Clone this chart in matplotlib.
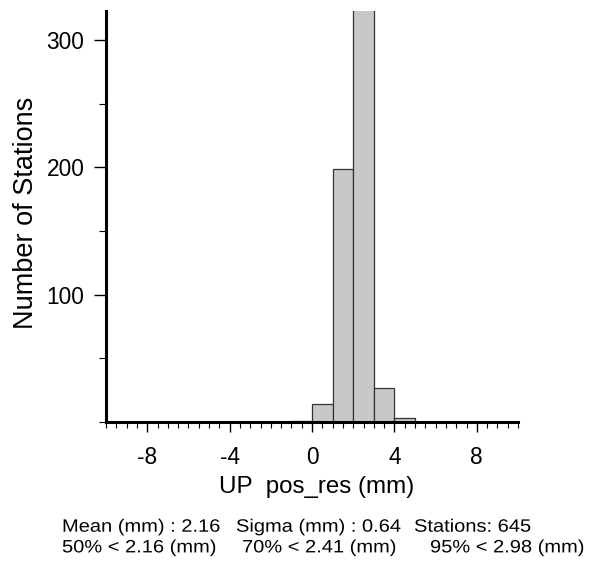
import numpy as np
import matplotlib
matplotlib.use('Agg')
import matplotlib.pyplot as plt
from matplotlib.ticker import MultipleLocator
from matplotlib.patheffects import AbstractPathEffect
from matplotlib.transforms import Affine2D

# histogram of UP residuals, bin width 1 mm
bin_left = [-1, 0, 1, 2, 3, 4]
counts = [1, 14, 199, 401, 27, 3]

stats_line1 = ["Mean (mm) : 2.16", "Sigma (mm) : 0.64", "Stations: 645"]
stats_line2 = ["50% < 2.16 (mm)", "70% < 2.41 (mm)", "95% < 2.98 (mm)"]


class StretchX(AbstractPathEffect):
    # widen glyphs horizontally (the stats text in the original is wider)
    def __init__(self, sx):
        super().__init__()
        self.sx = sx

    def draw_path(self, renderer, gc, tpath, affine, rgbFace=None):
        renderer.draw_path(gc, tpath, Affine2D().scale(self.sx, 1) + affine, rgbFace)


plt.rcParams['font.family'] = ['Liberation Sans', 'DejaVu Sans']
plt.rcParams['axes.unicode_minus'] = False

W, H = 592, 562
fig = plt.figure(figsize=(W / 100, H / 100), dpi=100)
ax = fig.add_axes([106 / W, 1 - 422 / H, 412 / W, 411.4 / H])

ax.bar(bin_left, counts, width=1, align='edge', color='#c8c8c8',
       edgecolor='#333333', linewidth=0.9, zorder=2)

ax.set_xlim(-10, 10)
ax.set_ylim(0, 323)

ax.spines['top'].set_visible(False)
ax.spines['right'].set_visible(False)
ax.spines['left'].set_linewidth(2.2)
ax.spines['bottom'].set_linewidth(2.2)
ax.spines['left'].set_zorder(3)
ax.spines['bottom'].set_zorder(3)

ax.xaxis.set_minor_locator(MultipleLocator(0.5))
ax.yaxis.set_minor_locator(MultipleLocator(50))
ax.set_xticks([-8, -4, 0, 4, 8])
ax.set_yticks([100, 200, 300])

ax.tick_params(axis='x', which='major', length=7.2, width=1, labelsize=16.3, pad=10.2)
ax.tick_params(axis='x', which='minor', length=4, width=0.8)
ax.tick_params(axis='y', which='major', length=8.3, width=1, labelsize=16.4, pad=7.3)
ax.tick_params(axis='y', which='minor', length=4.7, width=0.8)

ax.set_xlabel('UP  pos_res (mm)', fontsize=17.4, va='baseline')
ax.xaxis.set_label_coords((316.3 - 106) / 412, (422 - 492.7) / 411.4)
ax.set_ylabel('Number of Stations', fontsize=19.5, va='baseline')
ax.yaxis.set_label_coords((33.3 - 106) / 412, (422 - 212.5) / 411.4)

# stats block under the axes
col_x1 = [62, 236, 414]
col_x2 = [62, 242, 430]
for txt, x in zip(stats_line1, col_x1):
    fig.text(x / W, 1 - 531.7 / H, txt, fontsize=12.9, va='baseline', ha='left',
             path_effects=[StretchX(1.12)])
for txt, x in zip(stats_line2, col_x2):
    fig.text(x / W, 1 - 552.4 / H, txt, fontsize=12.9, va='baseline', ha='left',
             path_effects=[StretchX(1.12)])

fig.savefig('out.png', dpi=100)
